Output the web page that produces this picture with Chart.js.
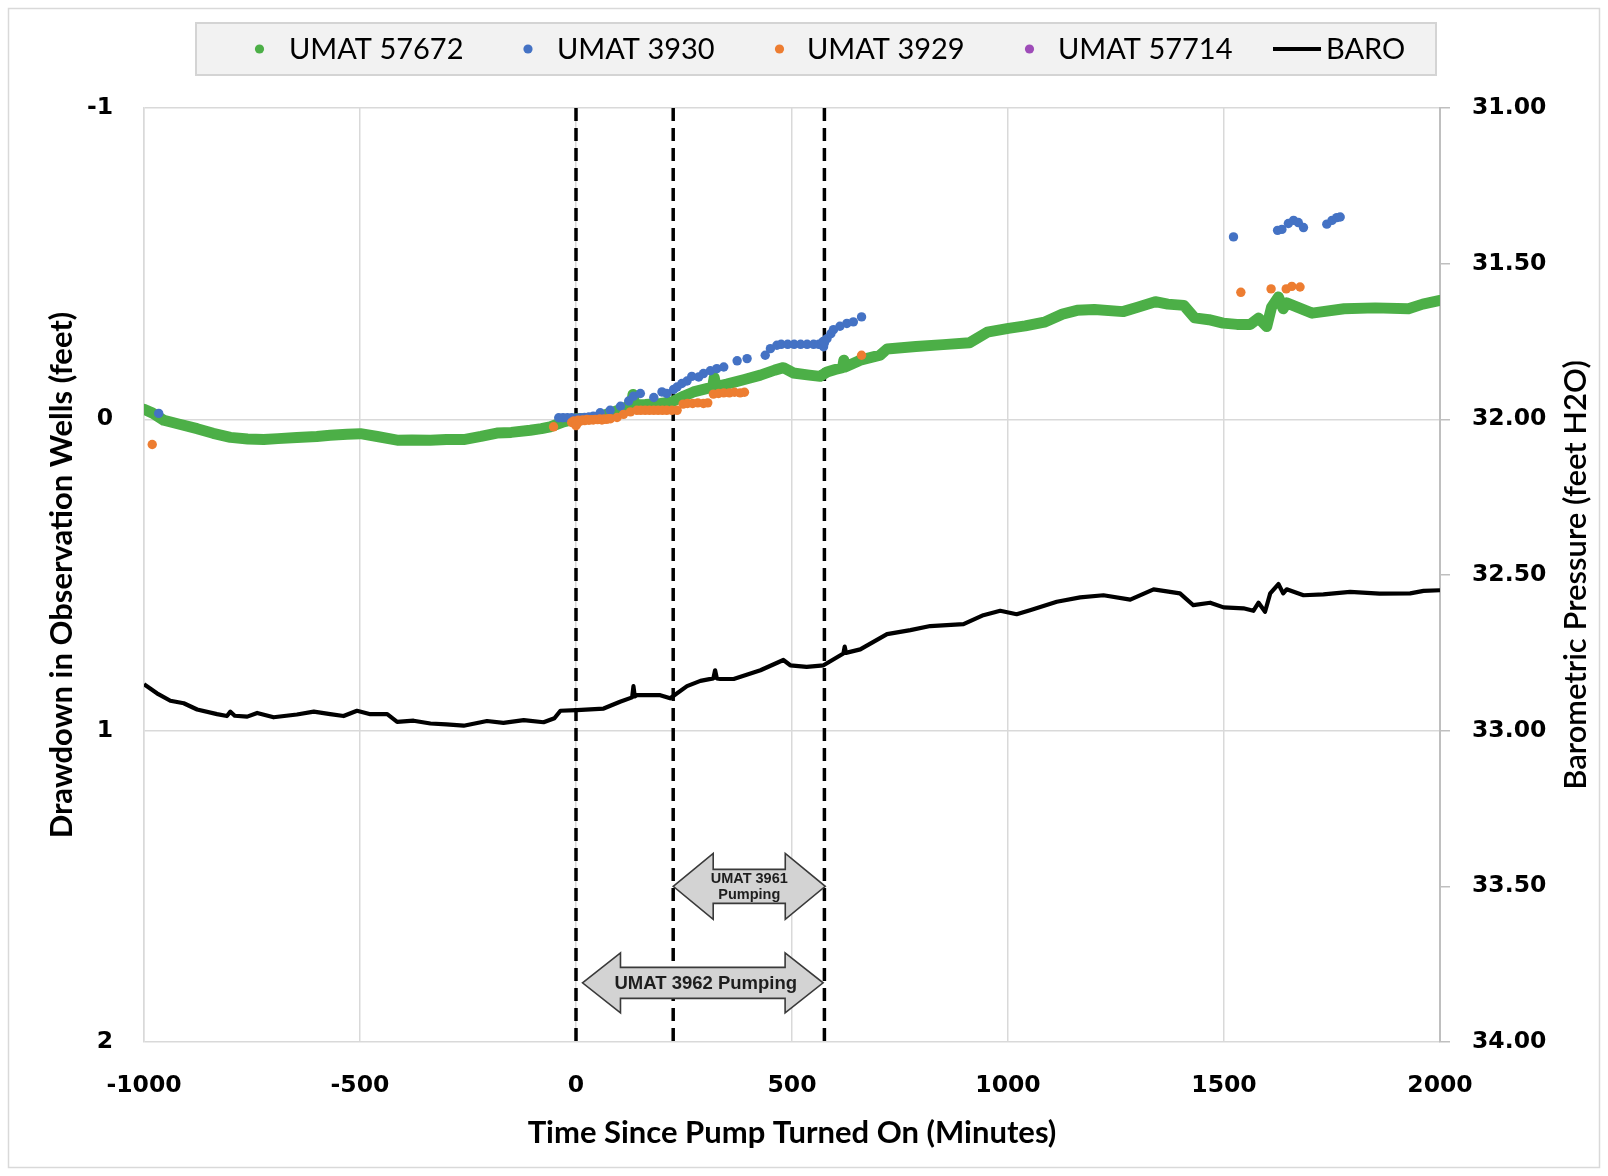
<!DOCTYPE html>
<html>
<head>
<meta charset="utf-8">
<title>Drawdown in Observation Wells</title>
<script src="https://cdn.jsdelivr.net/npm/chart.js@4.4.1/dist/chart.umd.min.js"></script>
<style>
  html, body { margin: 0; padding: 0; background: #ffffff; }
  canvas { display: block; }
</style>
</head>
<body>
<canvas id="chart" width="1608" height="1176"></canvas>
<script>
// ---- Observation well UMAT 57672 (drawdown, feet) ----
const umat57672Time = [-1000,-980,-954,-920,-877,-840,-800,-760,-723,-690,-646,-600,-569,-530,-499,-460,-414,-380,-337,-300,-260,-220,-183,-150,-106,-80,-60,-29,-10,0,41,80,118,128,132,136,160,195,222,250,272,300,316,320,324,349,390,427,460,480,503,540,565,581,600,617,620,623,658,704,720,787,850,911,952,1001,1040,1084,1126,1160,1200,1266,1300,1341,1370,1407,1432,1465,1498,1530,1561,1580,1599,1610,1626,1637,1645,1704,1778,1850,1927,1960,2000];
const umat57672Drawdown = [-0.032,-0.02,0.003,0.015,0.03,0.045,0.058,0.063,0.065,0.062,0.058,0.055,0.051,0.048,0.046,0.055,0.067,0.066,0.067,0.065,0.065,0.055,0.044,0.042,0.035,0.03,0.024,0.008,0.002,-0.002,-0.003,-0.02,-0.04,-0.045,-0.08,-0.047,-0.048,-0.051,-0.056,-0.075,-0.088,-0.098,-0.104,-0.134,-0.105,-0.113,-0.128,-0.142,-0.158,-0.166,-0.149,-0.142,-0.138,-0.152,-0.16,-0.166,-0.19,-0.168,-0.19,-0.206,-0.226,-0.234,-0.24,-0.246,-0.28,-0.292,-0.3,-0.312,-0.338,-0.35,-0.353,-0.346,-0.36,-0.378,-0.37,-0.366,-0.326,-0.32,-0.309,-0.305,-0.305,-0.325,-0.298,-0.36,-0.393,-0.355,-0.374,-0.341,-0.355,-0.358,-0.355,-0.37,-0.382];

// ---- Observation well UMAT 3930 ----
const umat3930Time = [-966,-40,-30,-20,-10,0,10,20,30,40,56,79,103,122,133,149,180,199,210,226,234,245,257,268,284,295,311,326,342,373,396,438,450,465,475,490,505,520,535,550,562,570,572,573,575,581,590,596,611,627,642,661,1522,1624,1634,1649,1661,1672,1684,1738,1750,1761,1769];
const umat3930Drawdown = [-0.019,-0.005,-0.005,-0.005,-0.005,-0.004,-0.005,-0.006,-0.008,-0.01,-0.021,-0.029,-0.042,-0.059,-0.074,-0.083,-0.07,-0.088,-0.083,-0.096,-0.104,-0.115,-0.123,-0.138,-0.136,-0.147,-0.156,-0.163,-0.168,-0.188,-0.195,-0.206,-0.227,-0.238,-0.241,-0.241,-0.241,-0.241,-0.241,-0.241,-0.241,-0.245,-0.25,-0.233,-0.245,-0.259,-0.275,-0.288,-0.299,-0.308,-0.313,-0.329,-0.586,-0.607,-0.61,-0.629,-0.639,-0.632,-0.616,-0.627,-0.639,-0.648,-0.65];

// ---- Observation well UMAT 3929 ----
const umat3929Time = [-981,-52,-10,-5,0,0,2,5,10,15,20,25,30,35,40,45,50,55,60,65,70,75,80,95,110,126,141,150,160,170,180,190,200,210,222,234,248,258,270,282,295,305,318,330,342,355,367,380,390,661,1539,1609,1644,1657,1676];
const umat3929Drawdown = [0.081,0.024,0.01,0.005,0.008,0.02,0.015,0.003,0.006,0.002,0.004,0,0.003,0.001,0.002,0,0.001,-0.001,0.002,-0.001,0,-0.002,-0.002,-0.006,-0.016,-0.024,-0.029,-0.029,-0.029,-0.029,-0.029,-0.029,-0.029,-0.029,-0.029,-0.029,-0.049,-0.051,-0.051,-0.053,-0.051,-0.053,-0.081,-0.083,-0.085,-0.085,-0.087,-0.085,-0.087,-0.206,-0.408,-0.419,-0.419,-0.427,-0.425];

// ---- Observation well UMAT 57714 (no readings in this window) ----
const umat57714Time = [];
const umat57714Drawdown = [];

// ---- Barometric pressure (feet H2O) ----
const baroTime = [-1000,-970,-939,-908,-877,-831,-808,-800,-790,-761,-738,-700,-646,-607,-569,-538,-507,-476,-437,-414,-376,-337,-300,-260,-206,-168,-121,-75,-50,-36,2,64,102,130,133,136,141,195,218,257,288,318,322,326,334,365,427,480,496,534,573,619,622,625,658,720,774,820,897,943,982,1020,1051,1113,1167,1221,1283,1337,1398,1429,1468,1499,1545,1568,1580,1595,1607,1626,1637,1645,1684,1730,1792,1860,1931,1962,2000];
const baroPressure = [32.851,32.88,32.904,32.912,32.932,32.947,32.953,32.939,32.952,32.955,32.943,32.957,32.948,32.939,32.947,32.953,32.936,32.947,32.947,32.972,32.968,32.977,32.98,32.984,32.969,32.975,32.966,32.973,32.96,32.936,32.934,32.929,32.907,32.893,32.857,32.89,32.886,32.886,32.896,32.857,32.84,32.832,32.806,32.832,32.834,32.834,32.806,32.773,32.79,32.795,32.79,32.752,32.73,32.75,32.739,32.69,32.677,32.664,32.658,32.629,32.615,32.626,32.613,32.586,32.572,32.565,32.579,32.546,32.559,32.597,32.589,32.604,32.607,32.615,32.589,32.618,32.559,32.529,32.559,32.546,32.565,32.562,32.554,32.56,32.559,32.551,32.549];

// ---- Pumping events (minutes since pump turned on) ----
const eventMarkers = [0, 225, 575];
const pumpingLabels = ['UMAT 3962 Pumping', 'UMAT 3961 Pumping'];
const pumpingStart = [15, 225];
const pumpingEnd = [572, 577];
const pumpingLevel = [1.81, 1.5];

// ---- Axis tick settings ----
const timeTicks = { min: -1000, max: 2000, step: 500 };
const drawdownTicks = { min: -1, max: 2, step: 1 };
const pressureTicks = { min: 31, max: 34, step: 0.5 };

const toPoints = (xs, ys) => xs.map((x, i) => ({ x: x, y: ys[i] }));

const GREEN = '#4CAF47';
const BLUE = '#4472C4';
const ORANGE = '#ED7D31';
const PURPLE = '#9E4CB8';

const markerDatasets = eventMarkers.map(t => ({
  label: '__marker',
  type: 'line',
  data: [{ x: t, y: drawdownTicks.min }, { x: t, y: drawdownTicks.max }],
  yAxisID: 'y',
  borderColor: '#000000',
  borderWidth: 3.5,
  borderDash: [13, 7],
  pointRadius: 0,
  order: 10
}));

const datasets = [
  {
    label: 'UMAT 57672', type: 'line', data: toPoints(umat57672Time, umat57672Drawdown),
    yAxisID: 'y', borderColor: GREEN, backgroundColor: GREEN, borderWidth: 11,
    borderJoinStyle: 'round', borderCapStyle: 'round', pointRadius: 0, order: 5, legendKind: 'dot'
  },
  {
    label: 'UMAT 3930', type: 'scatter', data: toPoints(umat3930Time, umat3930Drawdown),
    yAxisID: 'y', backgroundColor: BLUE, borderColor: BLUE, borderWidth: 0, pointRadius: 4.7, order: 3, legendKind: 'dot'
  },
  {
    label: 'UMAT 3929', type: 'scatter', data: toPoints(umat3929Time, umat3929Drawdown),
    yAxisID: 'y', backgroundColor: ORANGE, borderColor: ORANGE, borderWidth: 0, pointRadius: 4.7, order: 2, legendKind: 'dot'
  },
  {
    label: 'UMAT 57714', type: 'scatter', data: toPoints(umat57714Time, umat57714Drawdown),
    yAxisID: 'y', backgroundColor: PURPLE, borderColor: PURPLE, borderWidth: 0, pointRadius: 4.7, order: 1, legendKind: 'dot'
  },
  {
    label: 'BARO', type: 'line', data: toPoints(baroTime, baroPressure),
    yAxisID: 'y2', borderColor: '#000000', backgroundColor: '#000000', borderWidth: 4.2,
    borderJoinStyle: 'round', pointRadius: 0, order: 4, legendKind: 'line'
  },
  ...markerDatasets
];

// White page and thin outer frame
const framePlugin = {
  id: 'frame',
  beforeDraw(chart) {
    const ctx = chart.ctx;
    ctx.save();
    ctx.fillStyle = '#ffffff';
    ctx.fillRect(0, 0, chart.width, chart.height);
    ctx.strokeStyle = '#d9d9d9';
    ctx.lineWidth = 1.5;
    ctx.strokeRect(8.5, 8.5, chart.width - 17, chart.height - 17);
    ctx.restore();
  }
};

function doubleArrow(ctx, x1, x2, yc, totalH, shaftH, headL) {
  ctx.beginPath();
  ctx.moveTo(x1, yc);
  ctx.lineTo(x1 + headL, yc - totalH / 2);
  ctx.lineTo(x1 + headL, yc - shaftH / 2);
  ctx.lineTo(x2 - headL, yc - shaftH / 2);
  ctx.lineTo(x2 - headL, yc - totalH / 2);
  ctx.lineTo(x2, yc);
  ctx.lineTo(x2 - headL, yc + totalH / 2);
  ctx.lineTo(x2 - headL, yc + shaftH / 2);
  ctx.lineTo(x1 + headL, yc + shaftH / 2);
  ctx.lineTo(x1 + headL, yc + totalH / 2);
  ctx.closePath();
  ctx.fillStyle = '#d3d3d3';
  ctx.fill();
  ctx.strokeStyle = '#3a3a3a';
  ctx.lineWidth = 1.6;
  ctx.stroke();
}

// Pumping-period arrows
const pumpingPlugin = {
  id: 'pumping',
  afterDatasetsDraw(chart) {
    const ctx = chart.ctx;
    const xs = chart.scales.x, ys = chart.scales.y;
    ctx.save();
    // UMAT 3962 (long arrow, single-line text)
    {
      const x1 = xs.getPixelForValue(pumpingStart[0]);
      const x2 = xs.getPixelForValue(pumpingEnd[0]);
      const yc = ys.getPixelForValue(pumpingLevel[0]);
      doubleArrow(ctx, x1, x2, yc, 60, 31, 38);
      ctx.fillStyle = '#1e1e1e';
      ctx.font = 'bold 18.5px "Liberation Sans", Arial, sans-serif';
      ctx.textAlign = 'center';
      ctx.textBaseline = 'middle';
      ctx.fillText(pumpingLabels[0], (x1 + x2) / 2 + 3, yc + 1);
    }
    // UMAT 3961 (short arrow, two-line text)
    {
      const x1 = xs.getPixelForValue(pumpingStart[1]);
      const x2 = xs.getPixelForValue(pumpingEnd[1]);
      const yc = ys.getPixelForValue(pumpingLevel[1]);
      doubleArrow(ctx, x1, x2, yc, 66, 34, 40);
      ctx.fillStyle = '#1e1e1e';
      ctx.font = 'bold 14.5px "Liberation Sans", Arial, sans-serif';
      ctx.textAlign = 'center';
      ctx.textBaseline = 'middle';
      const words = pumpingLabels[1].split(' ');
      ctx.fillText(words.slice(0, 2).join(' '), (x1 + x2) / 2, yc - 7);
      ctx.fillText(words.slice(2).join(' '), (x1 + x2) / 2, yc + 9);
    }
    ctx.restore();
  }
};

// Axis titles and legend box
const decorPlugin = {
  id: 'decor',
  afterDraw(chart) {
    const ctx = chart.ctx;
    const a = chart.chartArea;
    ctx.save();
    ctx.fillStyle = '#000000';
    ctx.textAlign = 'center';
    ctx.textBaseline = 'middle';

    ctx.font = 'bold 31px Lato, "Open Sans", sans-serif';
    ctx.fillText('Time Since Pump Turned On (Minutes)', (a.left + a.right) / 2, 1133);

    ctx.save();
    ctx.translate(61.5, (a.top + a.bottom) / 2);
    ctx.rotate(-Math.PI / 2);
    ctx.fillText('Drawdown in Observation Wells (feet)', 0, 0);
    ctx.restore();

    ctx.save();
    ctx.font = '600 31px Lato, "Open Sans", sans-serif';
    ctx.translate(1576, (a.top + a.bottom) / 2);
    ctx.rotate(-Math.PI / 2);
    ctx.fillText('Barometric Pressure (feet H2O)', 0, 0);
    ctx.restore();

    // legend
    const bx = 196, by = 23, bw = 1240, bh = 52;
    ctx.fillStyle = '#f2f2f2';
    ctx.fillRect(bx, by, bw, bh);
    ctx.strokeStyle = '#d4d4d4';
    ctx.lineWidth = 2;
    ctx.strokeRect(bx, by, bw, bh);

    const cy = by + bh / 2;
    const markX = [259.5, 528, 779.5, 1029.5, 1273];
    const textX = [289, 557, 807, 1058, 1326];
    const items = chart.data.datasets.filter(d => d.legendKind);
    ctx.textAlign = 'left';
    ctx.font = '29px Lato, "Open Sans", sans-serif';
    items.forEach((d, i) => {
      if (d.legendKind === 'dot') {
        ctx.beginPath();
        ctx.arc(markX[i], cy, 4.6, 0, Math.PI * 2);
        ctx.fillStyle = d.backgroundColor;
        ctx.fill();
      } else {
        ctx.beginPath();
        ctx.moveTo(markX[i], cy);
        ctx.lineTo(markX[i] + 48, cy);
        ctx.strokeStyle = d.borderColor;
        ctx.lineWidth = 4;
        ctx.stroke();
      }
      ctx.fillStyle = '#000000';
      ctx.fillText(d.label, textX[i], cy + 1);
    });
    ctx.restore();
  }
};

const tickFont = { family: '"DejaVu Sans", Verdana, sans-serif', size: 23.5, weight: 'bold' };

function build() {
  new Chart(document.getElementById('chart'), {
    data: { datasets: datasets },
    options: {
      responsive: false,
      animation: false,
      devicePixelRatio: 1,
      layout: { padding: { top: 108, left: 0, right: 0, bottom: 0 } },
      plugins: { legend: { display: false }, tooltip: { enabled: false }, title: { display: false } },
      scales: {
        x: {
          type: 'linear', position: 'bottom',
          min: timeTicks.min, max: timeTicks.max,
          ticks: { stepSize: timeTicks.step, font: tickFont, color: '#000000', padding: 30, maxRotation: 0, callback: v => String(v) },
          grid: { color: '#d9d9d9', lineWidth: 1.5, drawTicks: false },
          border: { display: false },
          afterFit: s => { s.height = 134; }
        },
        y: {
          type: 'linear', position: 'left', reverse: true,
          min: drawdownTicks.min, max: drawdownTicks.max,
          ticks: { stepSize: drawdownTicks.step, font: tickFont, color: '#000000', padding: 31, callback: v => String(v) },
          grid: { color: '#d9d9d9', lineWidth: 1.5, drawTicks: false },
          border: { color: '#d9d9d9', width: 1.5 },
          afterFit: s => { s.width = 144; }
        },
        y2: {
          type: 'linear', position: 'right', reverse: true,
          min: pressureTicks.min, max: pressureTicks.max,
          ticks: { stepSize: pressureTicks.step, font: tickFont, color: '#000000', padding: 22, callback: v => v.toFixed(2) },
          grid: { drawOnChartArea: false, color: '#bfbfbf', lineWidth: 1.5, tickLength: 10 },
          border: { color: '#bfbfbf', width: 2 },
          afterFit: s => { s.width = 168; }
        }
      }
    },
    plugins: [framePlugin, pumpingPlugin, decorPlugin]
  });
}

const fontLoads = [
  '29px Lato', 'bold 31px Lato', '600 31px Lato',
  'bold 23px "DejaVu Sans"', 'bold 18px "Liberation Sans"'
].map(f => document.fonts.load(f).catch(() => null));
Promise.all(fontLoads).then(build, build);
</script>
</body>
</html>
